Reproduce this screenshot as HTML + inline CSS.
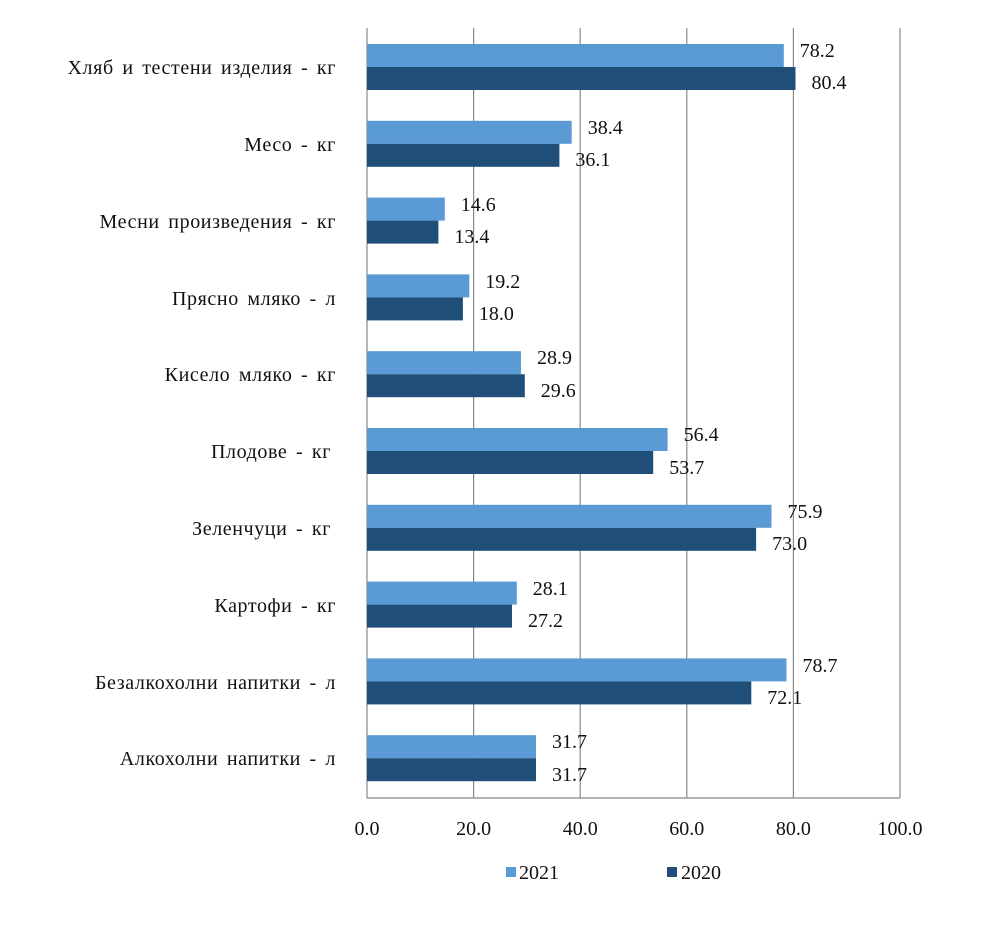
<!DOCTYPE html>
<html><head><meta charset="utf-8"><style>body{margin:0;background:#fff}</style></head><body>
<svg width="991" height="930" xmlns="http://www.w3.org/2000/svg" font-family="Liberation Serif, serif" font-size="20" fill="#111">
<rect width="991" height="930" fill="#fff"/>
<g stroke="#888" stroke-width="1.2">
<line x1="367" y1="28" x2="367" y2="798"/>
<line x1="473.6" y1="28" x2="473.6" y2="798"/>
<line x1="580.2" y1="28" x2="580.2" y2="798"/>
<line x1="686.8" y1="28" x2="686.8" y2="798"/>
<line x1="793.4" y1="28" x2="793.4" y2="798"/>
<line x1="900" y1="28" x2="900" y2="798"/>
<line x1="367" y1="798" x2="900" y2="798"/>
</g>
<g fill="#5B9BD5">
<rect x="367" y="44" width="416.8" height="23"/>
<rect x="367" y="120.8" width="204.7" height="23"/>
<rect x="367" y="197.6" width="77.8" height="23"/>
<rect x="367" y="274.4" width="102.3" height="23"/>
<rect x="367" y="351.2" width="154" height="23"/>
<rect x="367" y="428" width="300.6" height="23"/>
<rect x="367" y="504.8" width="404.5" height="23"/>
<rect x="367" y="581.6" width="149.8" height="23"/>
<rect x="367" y="658.4" width="419.5" height="23"/>
<rect x="367" y="735.2" width="169" height="23"/>
</g>
<g fill="#1F4E79">
<rect x="367" y="67" width="428.5" height="23"/>
<rect x="367" y="143.8" width="192.4" height="23"/>
<rect x="367" y="220.6" width="71.4" height="23"/>
<rect x="367" y="297.4" width="95.9" height="23"/>
<rect x="367" y="374.2" width="157.8" height="23"/>
<rect x="367" y="451" width="286.2" height="23"/>
<rect x="367" y="527.8" width="389.1" height="23"/>
<rect x="367" y="604.6" width="145" height="23"/>
<rect x="367" y="681.4" width="384.3" height="23"/>
<rect x="367" y="758.2" width="169" height="23"/>
</g>
<g>
<text x="799.8" y="57">78.2</text><text x="811.5" y="89">80.4</text>
<text x="587.7" y="134">38.4</text><text x="575.4" y="166">36.1</text>
<text x="460.8" y="211">14.6</text><text x="454.4" y="243">13.4</text>
<text x="485.3" y="288">19.2</text><text x="478.9" y="320">18.0</text>
<text x="537" y="364">28.9</text><text x="540.8" y="397">29.6</text>
<text x="683.6" y="441">56.4</text><text x="669.2" y="474">53.7</text>
<text x="787.5" y="518">75.9</text><text x="772.1" y="550">73.0</text>
<text x="532.8" y="595">28.1</text><text x="528" y="627">27.2</text>
<text x="802.5" y="672">78.7</text><text x="767.3" y="704">72.1</text>
<text x="552" y="748">31.7</text><text x="552" y="781">31.7</text>
</g>
<g text-anchor="end" xml:space="preserve" word-spacing="3" letter-spacing="0.6">
<text x="336" y="74">Хляб и тестени  изделия  - кг</text>
<text x="336" y="151">Месо - кг</text>
<text x="336" y="228">Месни произведения   - кг</text>
<text x="336" y="305">Прясно мляко - л</text>
<text x="336" y="381">Кисело мляко - кг</text>
<text x="331" y="458">Плодове - кг</text>
<text x="331" y="535">Зеленчуци - кг</text>
<text x="336" y="612">Картофи - кг</text>
<text x="336" y="689">Безалкохолни  напитки - л</text>
<text x="336" y="765">Алкохолни  напитки - л</text>
</g>
<g text-anchor="middle">
<text x="367" y="835">0.0</text><text x="473.6" y="835">20.0</text><text x="580.2" y="835">40.0</text><text x="686.8" y="835">60.0</text><text x="793.4" y="835">80.0</text><text x="900" y="835">100.0</text>
</g>
<rect x="506" y="867" width="10" height="10" fill="#5B9BD5"/><text x="519" y="879">2021</text>
<rect x="667" y="867" width="10" height="10" fill="#1F4E79"/><text x="681" y="879">2020</text>
</svg>
</body></html>
